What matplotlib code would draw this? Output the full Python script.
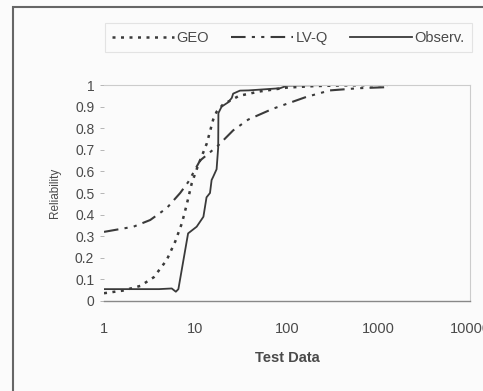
import matplotlib
matplotlib.use('Agg')
import matplotlib.pyplot as plt
from matplotlib.patches import Rectangle

plt.rcParams['font.family'] = ['Liberation Sans', 'DejaVu Sans']

# GEO model (dotted)
geo_x = [1, 1.6, 2.5, 3.5, 4.85, 6.0, 7.1, 8.0, 9.1, 10.3, 13.3, 15.6, 17, 20, 30, 50, 100, 200, 400, 800, 1250]
geo_y = [0.036, 0.048, 0.07, 0.11, 0.19, 0.275, 0.36, 0.445, 0.545, 0.61, 0.73, 0.84, 0.876, 0.91, 0.95, 0.97,
         0.988, 0.995, 0.998, 0.999, 1.0]

# LV-Q model (dash-dot)
lvq_x = [1, 2.1, 3.2, 4.85, 6.8, 8.3, 11.2, 17.7, 25.8, 37.7, 70, 163, 295, 600, 1250]
lvq_y = [0.32, 0.344, 0.375, 0.43, 0.50, 0.55, 0.65, 0.72, 0.79, 0.84, 0.89, 0.945, 0.975, 0.985, 0.99]

# observed reliability (solid)
obs_x = [1, 2, 3, 4, 5.5, 6.1, 6.5, 8.3, 10.3, 12.2, 13.2, 14.4, 15.0, 15.6, 17, 17.7, 17.8, 19.3, 22.8, 24.9,
         25.8, 30.6, 38, 84, 100, 300, 1250]
obs_y = [0.055, 0.055, 0.055, 0.055, 0.058, 0.043, 0.055, 0.313, 0.344, 0.39, 0.48, 0.50, 0.56, 0.575, 0.61, 0.71,
         0.87, 0.9, 0.92, 0.94, 0.96, 0.974, 0.975, 0.985, 0.997, 1.0, 1.0]

x_ticks = [1, 10, 100, 1000, 10000]
x_labels = ['1', '10', '100', '1000', '10000']
y_ticks = [0, 0.1, 0.2, 0.3, 0.4, 0.5, 0.6, 0.7, 0.8, 0.9, 1]
y_labels = ['0', '0.1', '0.2', '0.3', '0.4', '0.5', '0.6', '0.7', '0.8', '0.9', '1']

line_c = '#3a3a3a'
text_c = '#4a4a4a'

fig = plt.figure(figsize=(4.83, 3.91), dpi=100)
fig.patch.set_facecolor('#fbfbfb')
ax = fig.add_axes([104 / 483, 1 - 301 / 391, 366 / 483, 216 / 391])
ax.set_facecolor('#fbfbfb')

# outer chart frame
fig.patches.append(Rectangle((13 / 483, -0.05), 1.1, 1 - 7 / 391 + 0.05, transform=fig.transFigure,
                             fill=False, edgecolor='#666666', linewidth=1.5))

l1, = ax.plot(geo_x, geo_y, color=line_c, linestyle=(0, (1.2, 2.2)), linewidth=1.8)
l2, = ax.plot(lvq_x, lvq_y, color=line_c, linestyle=(0, (7, 3, 1.5, 3, 1.5, 3)), linewidth=1.5)
l3, = ax.plot(obs_x, obs_y, color=line_c, linestyle='-', linewidth=1.3)

ax.set_xscale('log')
ax.set_xlim(1, 10000)
ax.set_ylim(0, 1)
ax.set_xticks(x_ticks)
ax.set_xticklabels(x_labels)
ax.minorticks_off()
ax.set_yticks(y_ticks)
ax.set_yticklabels(y_labels)
ax.tick_params(axis='x', length=0, pad=15, labelsize=10.5, colors=text_c)
ax.tick_params(axis='y', length=3, width=0.6, color='#aaaaaa', pad=4, labelsize=10, labelcolor=text_c)

for side in ['top', 'right', 'left']:
    ax.spines[side].set_color('#cccccc')
    ax.spines[side].set_linewidth(0.8)
ax.spines['left'].set_visible(False)
ax.spines['bottom'].set_color('#888888')
ax.spines['bottom'].set_linewidth(1.0)

ax.set_xlabel('Test Data', fontsize=10.5, fontweight='bold', color=text_c, labelpad=11)
ax.set_ylabel('Reliability', fontsize=8.5, color=text_c, labelpad=10)

leg = fig.legend([l1, l2, l3], ['GEO', 'LV-Q', 'Observ.'], ncol=3, loc='lower left', mode='expand',
                 bbox_to_anchor=(105 / 483, 1 - 52 / 391, 367 / 483, 32 / 391), frameon=True, fancybox=False,
                 handlelength=4.2, handletextpad=0.2, columnspacing=1.2, fontsize=10.5,
                 borderpad=0.5, borderaxespad=0)
leg.get_frame().set_edgecolor('#dddddd')
leg.get_frame().set_linewidth(0.8)
leg.get_frame().set_facecolor('#fbfbfb')
for t in leg.get_texts():
    t.set_color(text_c)

fig.savefig('out.png', dpi=100)
plt.close(fig)
